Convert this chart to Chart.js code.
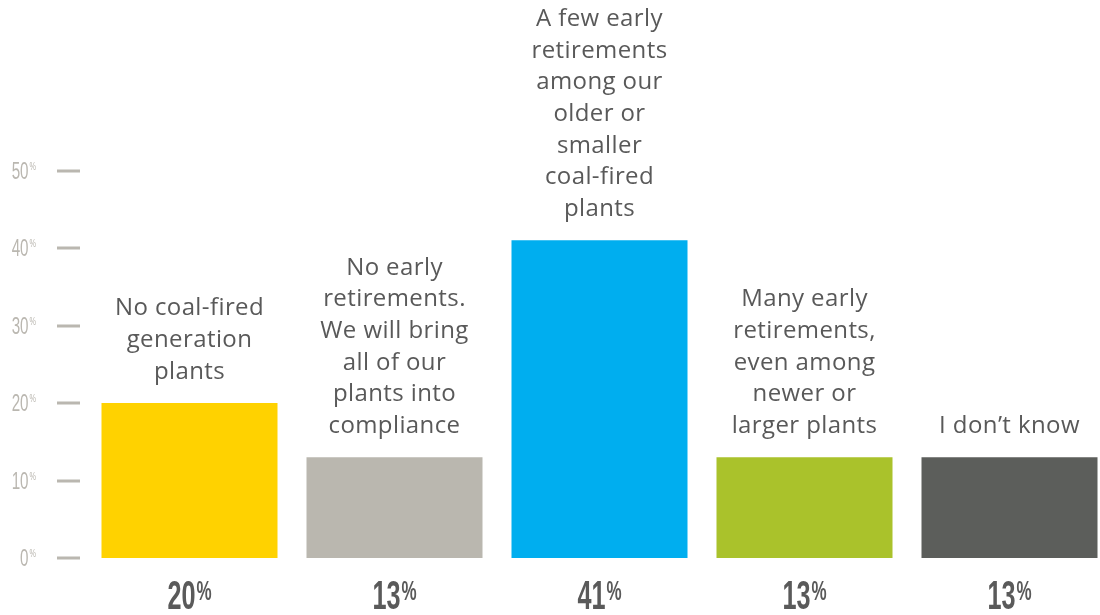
<!DOCTYPE html>
<html>
<head>
<meta charset="utf-8">
<script src="https://cdn.jsdelivr.net/npm/chart.js@4/dist/chart.umd.min.js"></script>
<style>
  html, body { margin: 0; padding: 0; background: #fff; overflow: hidden; }
  #caixa { position: relative; width: 1112px; height: 615px; }
</style>
</head>
<body>
<div id="caixa"><canvas id="grafico"></canvas></div>
<script>
// --- DADOS ---
const categorias = [
    ['No coal-fired', 'generation', 'plants'],
    ['No early', 'retirements.', 'We will bring', 'all of our', 'plants into', 'compliance'],
    ['A few early', 'retirements', 'among our', 'older or', 'smaller', 'coal-fired', 'plants'],
    ['Many early', 'retirements,', 'even among', 'newer or', 'larger plants'],
    ['I don\u2019t know']
];
const valores = [20, 13, 41, 13, 13];
const cores = ['#FFD200', '#BAB7AF', '#00AEEF', '#AAC22B', '#5C5E5B'];
const ticksY = [0, 10, 20, 30, 40, 50];

// --- ESTILOS ---
const corTexto = '#595959';
const corNumero = '#5A5A5A';
const corEixo = '#BAB7B0';

// desenha número condensado com o "%" em sobrescrito
// alinhamento: 'center' usa x como centro, 'right' usa x como fim do texto
function numeroComPct(ctx, num, x, base, tam, tamPct, sx, peso, cor, alinhamento) {
    ctx.save();
    ctx.fillStyle = cor;
    ctx.textBaseline = 'alphabetic';
    ctx.font = `${peso} ${tam}px "Liberation Sans"`;
    const wNum = ctx.measureText(num).width * sx;
    ctx.font = `${peso} ${tamPct}px "Liberation Sans"`;
    const wPct = ctx.measureText('%').width * sx;
    const gap = 1;
    const total = wNum + gap + wPct;
    const x0 = alinhamento === 'right' ? x - total : x - total / 2;

    ctx.save();
    ctx.translate(x0, base);
    ctx.scale(sx, 1);
    ctx.font = `${peso} ${tam}px "Liberation Sans"`;
    ctx.fillText(num, 0, 0);
    ctx.restore();

    // topo do % alinhado ao topo dos dígitos
    const basePct = base - tam * 0.716 + tamPct * 0.716;
    ctx.save();
    ctx.translate(x0 + wNum + gap, basePct);
    ctx.scale(sx, 1);
    ctx.font = `${peso} ${tamPct}px "Liberation Sans"`;
    ctx.fillText('%', 0, 0);
    ctx.restore();
    ctx.restore();
}

// plugin: traços e rótulos do eixo, rótulos das categorias e valores
const pluginRotulos = {
    id: 'rotulos',
    afterDatasetsDraw(chart) {
        const ctx = chart.ctx;
        const y = chart.scales.y;
        const barras = chart.getDatasetMeta(0).data;

        // eixo Y: traços curtos e percentuais
        ticksY.forEach(v => {
            const py = y.getPixelForValue(v);
            ctx.save();
            ctx.fillStyle = corEixo;
            ctx.fillRect(57, Math.round(py) - 1.5, 23, 3);
            ctx.restore();
            numeroComPct(ctx, String(v), 36, py + 8, 23, 11, 0.66, '500', corEixo, 'right');
        });

        barras.forEach((barra, i) => {
            // texto da categoria acima da barra
            const linhas = categorias[i];
            ctx.save();
            ctx.fillStyle = corTexto;
            ctx.font = '24px "Open Sans"';
            ctx.letterSpacing = '0.4px';
            ctx.textAlign = 'center';
            ctx.textBaseline = 'middle';
            const passo = 31.7;
            const ultima = barra.y - 31;
            linhas.forEach((txt, k) => {
                ctx.fillText(txt, barra.x, ultima - (linhas.length - 1 - k) * passo);
            });
            ctx.restore();

            // valor abaixo da barra
            numeroComPct(ctx, String(valores[i]), barra.x, 609, 40, 27, 0.63, 'bold', corNumero, 'center');
        });
    }
};

const ctx = document.getElementById('grafico').getContext('2d');
const grafico = new Chart(ctx, {
    type: 'bar',
    data: {
        labels: categorias,
        datasets: [{
            data: valores,
            backgroundColor: cores,
            borderWidth: 0,
            categoryPercentage: 1,
            barPercentage: 176 / 205
        }]
    },
    options: {
        responsive: true,
        maintainAspectRatio: false,
        animation: false,
        layout: { padding: { left: 87, right: 0, top: 15.5, bottom: 57 } },
        plugins: {
            legend: { display: false },
            tooltip: { enabled: false }
        },
        scales: {
            x: { display: false },
            y: { display: false, min: 0, max: 70 }
        }
    },
    plugins: [pluginRotulos]
});
</script>
</body>
</html>
